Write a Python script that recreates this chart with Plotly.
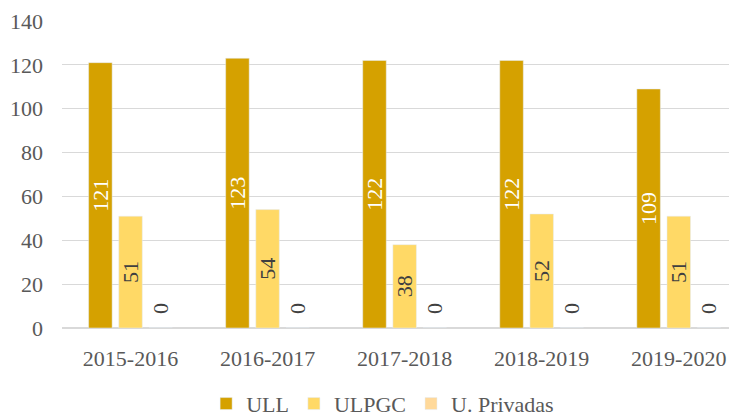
import plotly.graph_objects as go

categories = ["2015-2016", "2016-2017", "2017-2018", "2018-2019", "2019-2020"]
ull = [121, 123, 122, 122, 109]
ulpgc = [51, 54, 38, 52, 51]
privadas = [0, 0, 0, 0, 0]
series_names = ["ULL", "ULPGC", "U. Privadas"]
y_ticks = [0, 20, 40, 60, 80, 100, 120, 140]

FONT = "Liberation Serif"
colors = ["#D5A100", "#FFD966", "#FFD99A"]
FS = 22

fig = go.Figure()
fig.add_trace(go.Bar(
    x=categories, y=ull, name=series_names[0], marker_color=colors[0],
    text=[str(v) for v in ull], textposition="inside", insidetextanchor="middle",
    textangle=-90, constraintext="none",
    insidetextfont=dict(family=FONT, size=FS, color="#FFFFFF"),
    textfont=dict(family=FONT, size=FS, color="#FFFFFF"),
))
fig.add_trace(go.Bar(
    x=categories, y=ulpgc, name=series_names[1], marker_color=colors[1],
    text=[str(v) for v in ulpgc], textposition="inside", insidetextanchor="middle",
    textangle=-90, constraintext="none",
    insidetextfont=dict(family=FONT, size=FS, color="#404040"),
    textfont=dict(family=FONT, size=FS, color="#404040"),
))
fig.add_trace(go.Bar(
    x=categories, y=privadas, name=series_names[2], marker_color=colors[2],
    text=["\u00a0\u00a0" + str(v) for v in privadas], textposition="outside",
    textangle=-90, constraintext="none", cliponaxis=False,
    outsidetextfont=dict(family=FONT, size=FS, color="#404040"),
    textfont=dict(family=FONT, size=FS, color="#404040"),
))

fig.update_layout(
    width=729, height=408,
    margin=dict(l=54, r=0, t=13, b=88, autoexpand=False),
    paper_bgcolor="white", plot_bgcolor="white",
    barmode="group", bargap=0.34, bargroupgap=0.22,
    font=dict(family=FONT, size=FS, color="#595959"),
    showlegend=True,
    legend=dict(orientation="h", x=0.475, xanchor="center", yref="container",
                y=0.03, yanchor="middle", font=dict(family=FONT, size=FS, color="#595959"),
                itemwidth=30),
)
fig.update_xaxes(
    type="category", range=[-0.5, 4.425], showgrid=False, showline=False,
    ticks="", ticklabelstandoff=15, automargin=False,
    tickfont=dict(family=FONT, size=FS, color="#595959"),
)
fig.update_yaxes(
    range=[0, 140], tickvals=y_ticks, showgrid=True, gridcolor="#D9D9D9", gridwidth=1,
    zeroline=True, zerolinecolor="#D9D9D9", zerolinewidth=1.5, showline=False,
    ticks="", ticklabelstandoff=18, automargin=False,
    tickfont=dict(family=FONT, size=FS, color="#595959"),
)

fig.write_html("out.html")
